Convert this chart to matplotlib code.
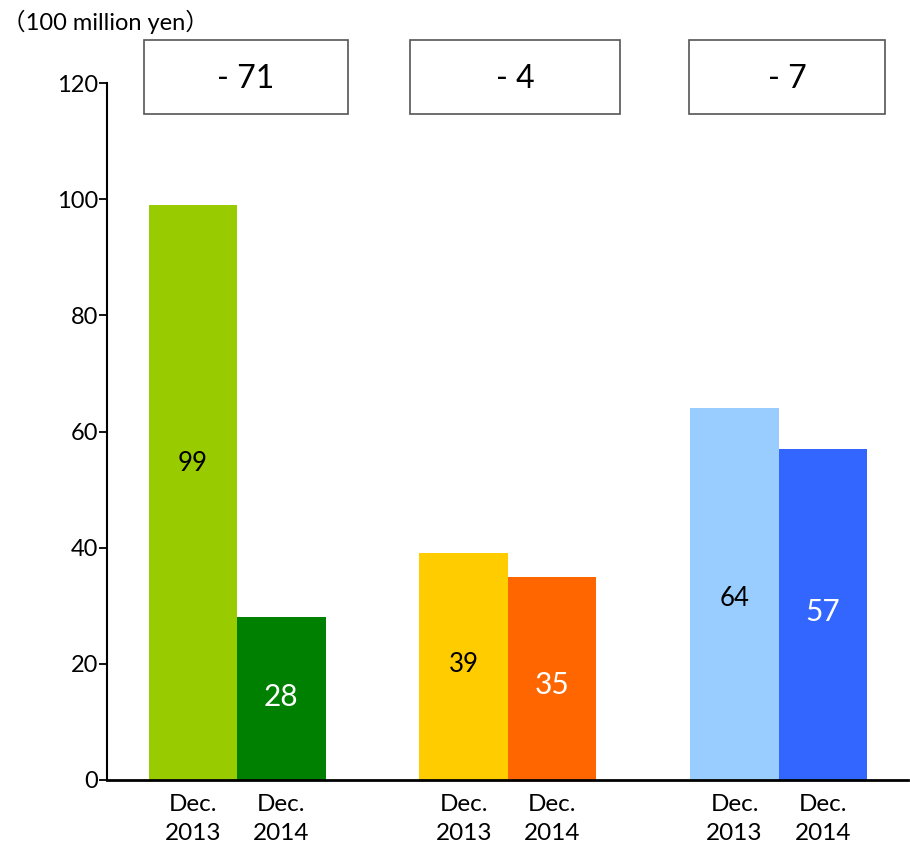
import matplotlib
matplotlib.use("Agg")
import matplotlib.pyplot as plt
from matplotlib.patches import Rectangle

plt.rcParams['font.family'] = ['Lato', 'Noto Sans CJK JP', 'DejaVu Sans']

# ---- data ----
periods = ["Dec.\n2013", "Dec.\n2014"]
values_2013 = [99, 39, 64]
values_2014 = [28, 35, 57]
differences = ["- 71", "- 4", "- 7"]
unit_label = "（100 million yen）"
y_ticks = [0, 20, 40, 60, 80, 100, 120]

# ---- style ----
colors_2013 = ["#99CC00", "#FFCC00", "#99CCFF"]
colors_2014 = ["#008000", "#FF6600", "#3366FF"]
text_2013 = "black"
text_2014 = "white"
label_y_2013 = [54.5, 19.8, 31.2]
label_y_2014 = [14.3, 16.3, 29.0]
group_gap = 3.06
W, H = 910, 848

fig = plt.figure(figsize=(W / 100, H / 100), dpi=100)
ax = fig.add_axes([107 / W, 1 - 780 / H, (908 - 107) / W, (780 - 83) / H])

xs, vals, cols, labs = [], [], [], []
for g in range(3):
    base = g * group_gap
    xs += [base, base + 1]
    vals += [values_2013[g], values_2014[g]]
    cols += [colors_2013[g], colors_2014[g]]
    labs += periods

ax.bar(xs, vals, width=1.0, color=cols, linewidth=0)

# value labels
for g in range(3):
    base = g * group_gap
    ax.text(base, label_y_2013[g], str(values_2013[g]), ha="center", va="center",
            fontsize=18.5, color=text_2013)
    ax.text(base + 1, label_y_2014[g], str(values_2014[g]), ha="center", va="center",
            fontsize=21.5, color=text_2014)

ax.set_xlim(-0.97, 8.08)
ax.set_ylim(0, 120)
ax.set_yticks(y_ticks)
ax.set_xticks(xs)
ax.set_xticklabels(labs, fontsize=17.5, linespacing=1.45)
ax.tick_params(axis="x", length=0, pad=10)
ax.tick_params(axis="y", direction="out", length=5.5, width=1.3, labelsize=17, pad=1)
for s in ["top", "right"]:
    ax.spines[s].set_visible(False)
ax.spines["left"].set_linewidth(1.5)
ax.spines["bottom"].set_linewidth(2)

# difference boxes (figure pixel coords)
boxes = [(144, 348), (410, 620), (689, 885)]
for (x0, x1), txt in zip(boxes, differences):
    fig.patches.append(Rectangle((x0 / W, 1 - 114 / H), (x1 - x0) / W, 74 / H,
                                 transform=fig.transFigure, fill=False,
                                 edgecolor="#555555", linewidth=1.2))
    fig.text((x0 + x1) / 2 / W, 1 - 79 / H, txt, ha="center", va="center", fontsize=23)

fig.text(2 / W, 1 - 22 / H, unit_label, ha="left", va="center", fontsize=17)

fig.savefig("out.png", dpi=100)
